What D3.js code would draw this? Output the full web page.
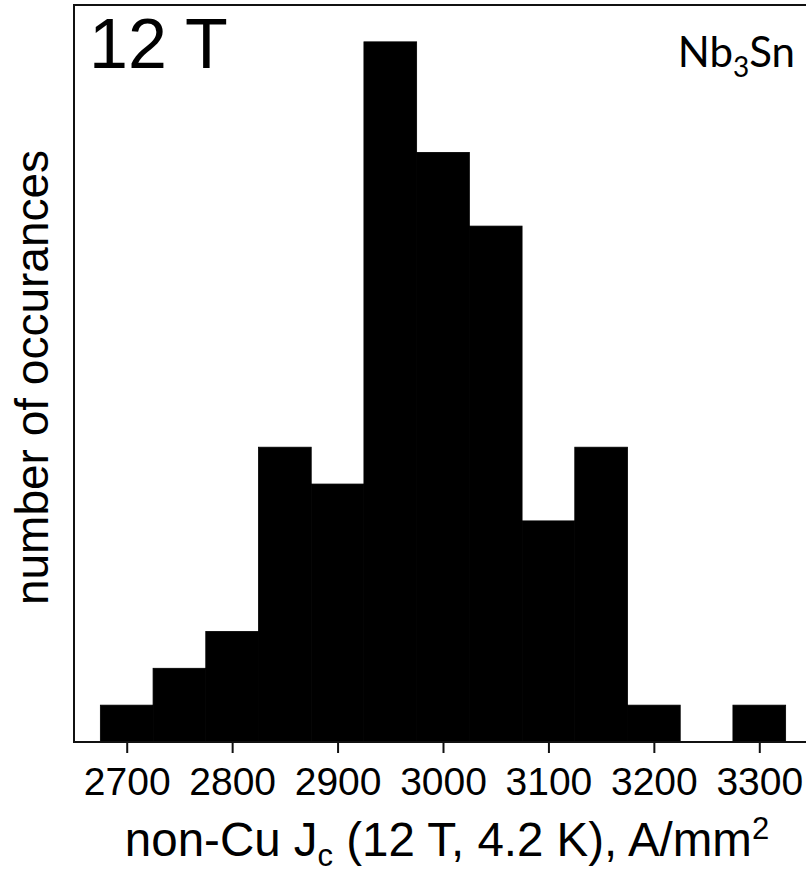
<!DOCTYPE html>
<html>
<head>
<meta charset="utf-8">
<script src="https://cdn.jsdelivr.net/npm/d3@7"></script>
<style>
  body { margin: 0; background: #fff; }
  svg { display: block; }
</style>
</head>
<body>
<svg id="chart" width="806" height="872"></svg>
<script>
// Histogram bins (left edge, right edge) and counts
const binStarts = [2675, 2725, 2775, 2825, 2875, 2925, 2975, 3025, 3075, 3125, 3175, 3225, 3275];
const binWidth = 50;
const counts    = [1, 2, 3, 8, 7, 19, 16, 14, 6, 8, 1, 0, 1];
const xTicks = [2700, 2800, 2900, 3000, 3100, 3200, 3300];
const xDomain = [2650, 3350];
const yDomain = [0, 20];

const svg = d3.select("#chart");
const mLeft = 74, mRight = 812, mTop = 5, mBottom = 742;

const x = d3.scaleLinear().domain(xDomain).range([mLeft, mRight]);
const y = d3.scaleLinear().domain(yDomain).range([mBottom, mTop]);

const bins = binStarts.map((s, i) => ({ x0: s, x1: s + binWidth, n: counts[i] }));

svg.append("g")
  .selectAll("rect")
  .data(bins.filter(d => d.n > 0))
  .join("rect")
  .attr("x", d => x(d.x0))
  .attr("y", d => y(d.n))
  .attr("width", d => x(d.x1) - x(d.x0))
  .attr("height", d => y(0) - y(d.n))
  .attr("fill", "#000")
  .attr("stroke", "#000")
  .attr("stroke-width", 0.8);

// Frame
svg.append("rect")
  .attr("x", mLeft).attr("y", mTop)
  .attr("width", mRight - mLeft).attr("height", mBottom - mTop)
  .attr("fill", "none").attr("stroke", "#111").attr("stroke-width", 2);

// X axis
const xAxis = d3.axisBottom(x).tickValues(xTicks).tickFormat(d3.format("d"))
  .tickSize(11).tickSizeOuter(0).tickPadding(14);
const gx = svg.append("g").attr("transform", `translate(0,${mBottom})`).call(xAxis);
gx.select(".domain").remove();
gx.selectAll(".tick line").attr("stroke", "#111").attr("stroke-width", 2);
gx.selectAll(".tick text")
  .attr("font-family", "'Liberation Sans', Arial, sans-serif")
  .attr("font-size", 39)
  .attr("fill", "#000");

// X title
const xt = svg.append("text")
  .attr("x", 447).attr("y", 856)
  .attr("text-anchor", "middle")
  .attr("font-family", "'Liberation Sans', Arial, sans-serif")
  .attr("font-size", 47.5)
  .attr("fill", "#000");
xt.append("tspan").text("non-Cu J");
xt.append("tspan").attr("font-size", 31).attr("dy", 10).text("c");
xt.append("tspan").attr("dy", -10).text(" (12 T, 4.2 K), A/mm");
xt.append("tspan").attr("font-size", 31).attr("dy", -17).text("2");

// Y title
svg.append("text")
  .attr("transform", `translate(48,${(mTop + mBottom) / 2 + 4}) rotate(-90)`)
  .attr("text-anchor", "middle")
  .attr("font-family", "'Liberation Sans', Arial, sans-serif")
  .attr("font-size", 46)
  .attr("fill", "#000")
  .text("number of occurances");

// Panel label
svg.append("text")
  .attr("x", 89).attr("y", 68)
  .attr("font-family", "'Liberation Sans', Arial, sans-serif")
  .attr("font-size", 70)
  .attr("fill", "#000")
  .text("12 T");

// Material label
const mt = svg.append("text")
  .attr("x", 795).attr("y", 67)
  .attr("text-anchor", "end")
  .attr("font-family", "Lato, 'Open Sans', sans-serif")
  .attr("font-size", 42)
  .attr("fill", "#000");
mt.append("tspan").text("Nb");
mt.append("tspan").attr("font-size", 28).attr("dy", 10).text("3");
mt.append("tspan").attr("dy", -10).text("Sn");
</script>
</body>
</html>
